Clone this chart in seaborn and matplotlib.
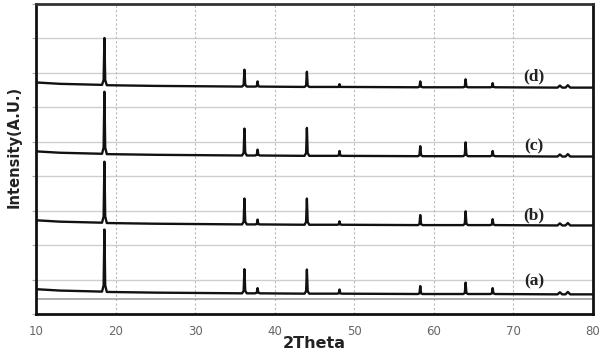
import numpy as np
import pandas as pd
import matplotlib
matplotlib.use("Agg")
import matplotlib.pyplot as plt
import seaborn as sns

# 2-theta vertices of the traced patterns
two_theta = [10, 13, 18.3, 18.5, 18.6, 18.7, 18.9, 25,
             35.9, 36.1, 36.2, 36.3, 36.5,
             37.55, 37.75, 37.85, 37.95, 38.15,
             43.75, 43.95, 44.05, 44.15, 44.35,
             47.85, 48.05, 48.15, 48.25, 48.45,
             58.0, 58.2, 58.3, 58.4, 58.6,
             63.7, 63.9, 64.0, 64.1, 64.3,
             67.1, 67.3, 67.4, 67.5, 67.7,
             75.55, 75.85, 76.15, 76.55, 76.85, 77.15, 80]

int_a = [0.72, 0.68, 0.65, 0.83, 2.45, 0.83, 0.64, 0.62,
         0.60, 0.67, 1.30, 0.67, 0.60,
         0.60, 0.62, 0.75, 0.62, 0.60,
         0.59, 0.66, 1.29, 0.66, 0.59,
         0.59, 0.60, 0.71, 0.60, 0.59,
         0.58, 0.60, 0.81, 0.60, 0.58,
         0.58, 0.61, 0.91, 0.61, 0.58,
         0.58, 0.60, 0.75, 0.60, 0.58,
         0.57, 0.63, 0.57, 0.57, 0.64, 0.57, 0.57]

int_b = [2.72, 2.68, 2.65, 2.83, 4.42, 2.83, 2.64, 2.62,
         2.60, 2.68, 3.35, 2.68, 2.60,
         2.60, 2.61, 2.74, 2.61, 2.60,
         2.59, 2.67, 3.35, 2.67, 2.59,
         2.59, 2.60, 2.69, 2.60, 2.59,
         2.58, 2.61, 2.87, 2.61, 2.58,
         2.58, 2.62, 2.98, 2.62, 2.58,
         2.58, 2.60, 2.75, 2.60, 2.58,
         2.57, 2.63, 2.57, 2.57, 2.64, 2.57, 2.57]

int_c = [4.72, 4.68, 4.65, 4.83, 6.45, 4.83, 4.64, 4.62,
         4.60, 4.68, 5.38, 4.68, 4.60,
         4.60, 4.62, 4.77, 4.62, 4.60,
         4.59, 4.67, 5.40, 4.67, 4.59,
         4.59, 4.60, 4.73, 4.60, 4.59,
         4.58, 4.61, 4.87, 4.61, 4.58,
         4.58, 4.62, 4.98, 4.62, 4.58,
         4.58, 4.60, 4.73, 4.60, 4.58,
         4.57, 4.63, 4.57, 4.57, 4.64, 4.57, 4.57]

int_d = [6.72, 6.68, 6.65, 6.79, 8.01, 6.79, 6.64, 6.62,
         6.60, 6.65, 7.09, 6.65, 6.60,
         6.60, 6.61, 6.75, 6.61, 6.60,
         6.59, 6.63, 7.03, 6.63, 6.59,
         6.59, 6.59, 6.67, 6.59, 6.59,
         6.58, 6.60, 6.75, 6.60, 6.58,
         6.58, 6.60, 6.81, 6.60, 6.58,
         6.58, 6.59, 6.70, 6.59, 6.58,
         6.57, 6.63, 6.57, 6.57, 6.64, 6.57, 6.57]

sample_labels = ["(a)", "(b)", "(c)", "(d)"]
label_y = [0.96, 2.87, 4.85, 6.91]
label_x = 72.6
reference_line = 0.44

x_ticks = [10, 20, 30, 40, 50, 60, 70, 80]

frames = []
for lab, ys in zip(sample_labels, [int_a, int_b, int_c, int_d]):
    frames.append(pd.DataFrame({"2theta": two_theta, "intensity": ys, "sample": lab}))
df = pd.concat(frames, ignore_index=True)

sns.set_style("white")
fig = plt.figure(figsize=(6.05, 3.54), dpi=100)
ax = fig.add_axes([0.0595, 0.113, 0.9205, 0.876])

# grid
for yv in range(1, 9):
    ax.axhline(yv, color="#cfcfcf", lw=1.0, zorder=0)
for xv in x_ticks[1:-1]:
    ax.axvline(xv, color="#b8b8b8", lw=0.8, ls=(0, (2, 2)), zorder=0)
ax.axhline(reference_line, color="#a0a0a0", lw=1.2, zorder=1)

sns.lineplot(data=df, x="2theta", y="intensity", hue="sample",
             palette=["#111111"] * 4, lw=1.7, legend=False, ax=ax,
             estimator=None, sort=False, zorder=3)

for lab, yv in zip(sample_labels, label_y):
    ax.text(label_x, yv, lab, ha="center", va="center", fontsize=12.5,
            fontweight="bold", family="Liberation Serif", color="#222222")

ax.set_xlim(10, 80)
ax.set_ylim(0, 9)
ax.set_xticks(x_ticks)
ax.set_yticks(range(0, 10))
ax.set_yticklabels([])
ax.tick_params(axis="x", length=0, labelsize=8.5, labelcolor="#666666", pad=8)
ax.tick_params(axis="y", length=3, color="#aaaaaa", direction="out", left=True)
for sp in ax.spines.values():
    sp.set_visible(True)
    sp.set_color("#111111")
    sp.set_linewidth(2.0)
ax.spines["top"].set_color("#333333")

ax.set_xlabel("2Theta", fontsize=11.5, fontweight="bold", color="#222222")
ax.xaxis.set_label_coords(0.5, -0.072)
ax.set_ylabel("Intensity(A.U.)", fontsize=10.5, fontweight="bold", color="#222222")
ax.yaxis.set_label_coords(-0.026, 0.54)

fig.savefig("out.png", dpi=100)
